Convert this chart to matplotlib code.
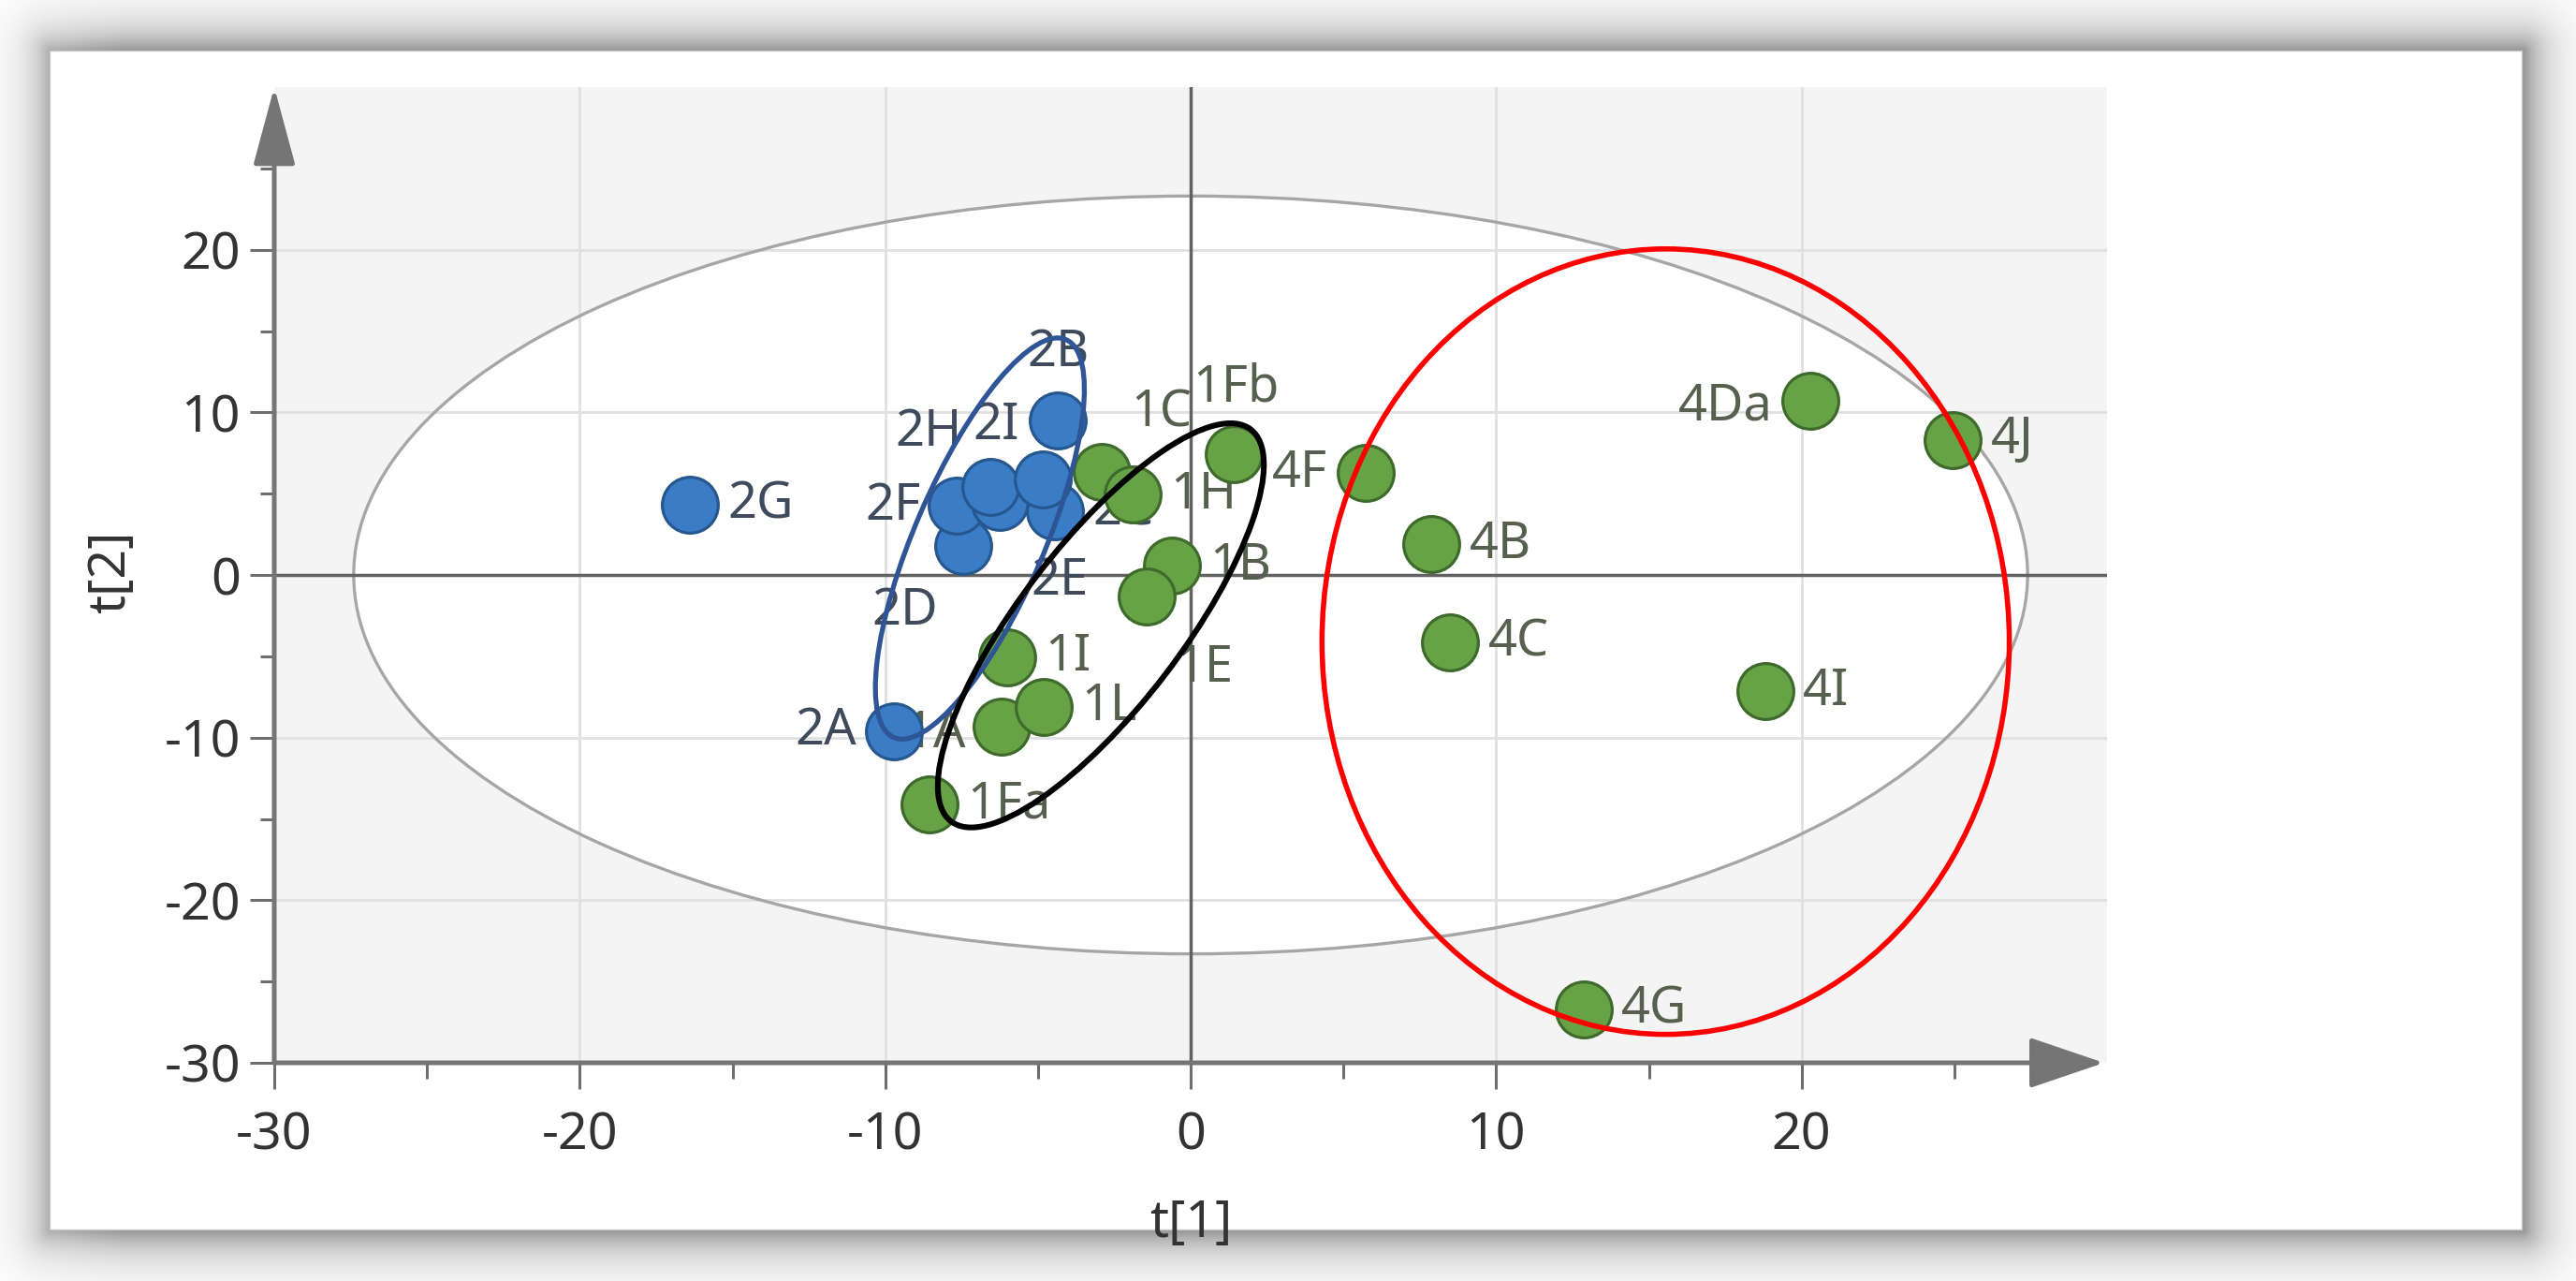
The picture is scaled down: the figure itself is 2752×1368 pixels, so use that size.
import numpy as np
import matplotlib
matplotlib.use("Agg")
import matplotlib.pyplot as plt
from matplotlib.patches import Ellipse
from matplotlib.transforms import ScaledTranslation

plt.rcParams['font.family'] = ['Noto Sans', 'DejaVu Sans']
plt.rcParams['axes.unicode_minus'] = False

W, H = 2752, 1368
DPI = 100

# scores, group 2 (blue)
blue_names = ['2G', '2D', '2F', '2E', '2H', '2C', '2I', '2B', '2A']
blue_t1 = [-16.4, -7.45, -7.65, -6.25, -6.55, -4.45, -4.85, -4.35, -9.7]
blue_t2 = [4.3, 1.8, 4.25, 4.5, 5.4, 3.9, 5.9, 9.5, -9.6]

# scores, groups 1 and 4 (green)
green_names = ['1Fa', '1A', '1L', '1I', '1B', '1E', '1C', '1H', '1Fb',
               '4F', '4B', '4C', '4Da', '4J', '4I', '4G']
green_t1 = [-8.55, -6.2, -4.82, -6.0, -0.62, -1.45, -2.92, -1.9, 1.42,
            5.72, 7.88, 8.5, 20.28, 24.95, 18.8, 12.87]
green_t2 = [-14.1, -9.3, -8.1, -5.05, 0.55, -1.35, 6.35, 4.95, 7.45,
            6.25, 1.9, -4.12, 10.7, 8.3, -7.15, -26.7]

xticks = [-30, -20, -10, 0, 10, 20]
yticks = [-30, -20, -10, 0, 10, 20]
minor_ticks = [-25, -15, -5, 5, 15, 25]
grid_vals = [-20, -10, 10, 20]

# Hotelling T2 ellipse half axes
t2_a, t2_b = 27.4, 23.3

# label placement: name -> (dx pt, dy pt, ha)
label_pos = {
    '2A': (-29, 0, 'right'), '2B': (0, 52, 'center'), '2D': (-19, -50, 'right'),
    '2E': (24, -61, 'left'), '2F': (-28, 0, 'right'), '2H': (-22, 42, 'right'),
    '2I': (-18, 41, 'right'), '1A': (-27, -6, 'right'), '1C': (23, 45, 'left'),
    '1E': (23, -55, 'left'), '1Fb': (-32, 51, 'left'), '4Da': (-29, -4, 'right'),
    '4F': (-29, 0, 'right'),
}

fig = plt.figure(figsize=(W / DPI, H / DPI), dpi=DPI)

# card with soft shadow
bg = fig.add_axes([0, 0, 1, 1])
yy, xx = np.mgrid[0:H, 0:W]
x0, x1, y0, y1 = 53, 2694, 54, 1313
ddx = np.maximum(np.maximum(x0 - xx, xx - x1), 0)
ddy = np.maximum(np.maximum(y0 - yy, yy - y1), 0)
dist = np.sqrt(ddx ** 2 + ddy ** 2)
strength = 0.28 + 0.15 * np.clip((xx - x0 + 40) / 120.0, 0, 1)
shade = 1 - strength * np.exp(-dist / 26.0)
shade[(ddx == 0) & (ddy == 0)] = 1.0
bg.imshow(shade, cmap='gray', vmin=0, vmax=1, extent=[0, W, H, 0],
          aspect='auto', interpolation='bilinear')
bg.plot([x0, x1, x1, x0, x0], [y0, y0, y1, y1, y0], color='#c8c8c8', lw=1)
bg.set_xlim(0, W)
bg.set_ylim(H, 0)
bg.axis('off')

ax = fig.add_axes([293 / W, 1 - 1135 / H, (2251 - 293) / W, (1135 - 93) / H])
ax.set_facecolor('#f4f4f4')
ax.set_xlim(-30, 30)
ax.set_ylim(-30, 30)
for s in ax.spines.values():
    s.set_visible(False)

# white inside of the T2 ellipse
ax.add_patch(Ellipse((0, 0), 2 * t2_a, 2 * t2_b, facecolor='white',
                     edgecolor='none', zorder=0.2))
for g in grid_vals:
    ax.axhline(g, color='#e0e0e0', lw=2.0, zorder=0.5)
    ax.axvline(g, color='#e0e0e0', lw=2.0, zorder=0.5)
ax.add_patch(Ellipse((0, 0), 2 * t2_a, 2 * t2_b, facecolor='none',
                     edgecolor='#a6a6a6', lw=2.4, zorder=1))
ax.axhline(0, color='#626262', lw=2.5, zorder=1.2)
ax.axvline(0, color='#626262', lw=2.5, zorder=1.2)

# axis arrows
arr = dict(arrowstyle='-|>,head_length=52,head_width=14', mutation_scale=1,
           color='#757575', lw=3.6, shrinkA=0, shrinkB=0)
ax.annotate('', xy=(-30, 30), xytext=(-30, -30), arrowprops=arr,
            annotation_clip=False, zorder=2)
arr_x = dict(arr, arrowstyle='-|>,head_length=50,head_width=17')
ax.annotate('', xy=(29.9, -30), xytext=(-30, -30), arrowprops=arr_x,
            annotation_clip=False, zorder=2)

ax.set_xticks(xticks)
ax.set_yticks(yticks)
ax.set_xticks(minor_ticks, minor=True)
ax.set_yticks(minor_ticks, minor=True)
ax.tick_params(which='both', colors='#6e6e6e', width=2.2, labelcolor='#333333',
               labelsize=40)
ax.tick_params(axis='x', which='major', length=20, pad=16)
ax.tick_params(axis='x', which='minor', length=12)
ax.tick_params(axis='y', which='major', length=19, pad=7)
ax.tick_params(axis='y', which='minor', length=11)

ax.set_xlabel('t[1]', fontsize=40, color='#333333')
ax.set_ylabel('t[2]', fontsize=40, color='#333333')
ax.xaxis.set_label_coords(0.5, -0.138)
ax.yaxis.set_label_coords(-0.075, 0.503)

# points and labels
def draw_group(names, t1, t2, face, edge, txt):
    ax.scatter(t1, t2, s=1850, c=face, edgecolors=edge, linewidths=2.3, zorder=4)
    for n, x, y in zip(names, t1, t2):
        dx, dy, ha = label_pos.get(n, (29, 0, 'left'))
        ax.annotate(n, (x, y), xytext=(dx, dy), textcoords='offset points',
                    ha=ha, va='center', fontsize=39, color=txt, zorder=3)

draw_group(blue_names, blue_t1, blue_t2, '#3a7cc6', '#27578f', '#3f4a5c')
draw_group(green_names, green_t1, green_t2, '#68a246', '#3e6b2c', '#56604f')

# hand drawn group outlines: center in data, size in pixels
def outline(cx, cy, w_px, h_px, angle, color, lw):
    tr = fig.dpi_scale_trans + ScaledTranslation(cx, cy, ax.transData)
    ax.add_patch(Ellipse((0, 0), w_px / DPI, h_px / DPI, angle=angle,
                         transform=tr, facecolor='none', edgecolor=color,
                         lw=lw, zorder=6))

outline(-6.9, 2.24, 463, 138, 66.6, '#2f5597', 3.8)
outline(-2.94, -3.1, 527, 173, 52.6, 'black', 4.4)
ax.add_patch(Ellipse((15.55, -4.1), 22.5, 48.3, facecolor='none',
                     edgecolor='#ff0000', lw=4.0, zorder=6))

fig.savefig('out.png', dpi=DPI)
